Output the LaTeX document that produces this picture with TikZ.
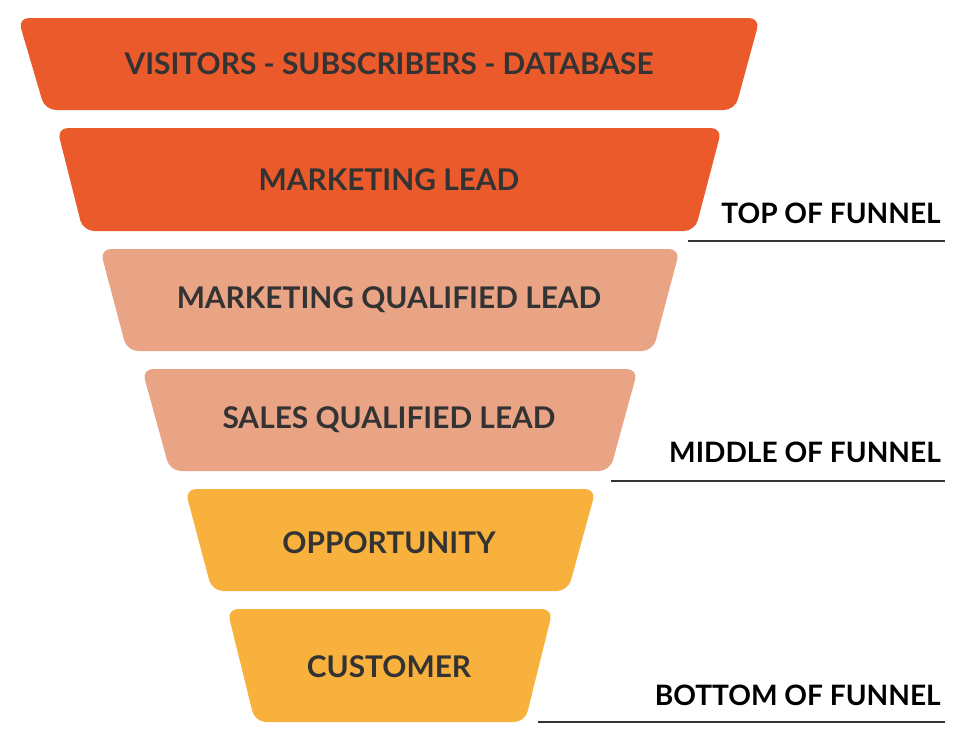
\documentclass[tikz,border=0pt]{standalone}
\usepackage{fontspec}
\setmainfont{Lato}
\definecolor{topclr}{HTML}{EA5A2A}
\definecolor{midclr}{HTML}{E9A385}
\definecolor{botclr}{HTML}{F7B13C}
\definecolor{txtclr}{HTML}{333333}
\tikzset{
  stage/.style={rounded corners=0.22cm},
  stagetext/.style={text=txtclr,font=\fontsize{17}{20}\selectfont\bfseries},
  sidetext/.style={text=black,font=\fontsize{16}{19}\selectfont\bfseries,anchor=east}
}
\begin{document}
\begin{tikzpicture}[x=0.02cm,y=-0.02cm]
        \useasboundingbox (0,0) rectangle (958,737);

        \fill[stage,topclr] (18,18) -- (760,18) -- (735,110) -- (45,110) -- cycle;
        \fill[stage,topclr] (57,128) -- (722,128) -- (695,231) -- (83,231) -- cycle;
        \fill[stage,midclr] (100,249) -- (680,249) -- (653,351) -- (127,351) -- cycle;
        \fill[stage,midclr] (142,369) -- (638,369) -- (610,471) -- (170,471) -- cycle;
        \fill[stage,botclr] (185,489) -- (596,489) -- (568,591) -- (212,591) -- cycle;
        \fill[stage,botclr] (227,609) -- (553,609) -- (525,722) -- (255,722) -- cycle;

        \node[stagetext] (visitors) at (389,64) {VISITORS - SUBSCRIBERS - DATABASE};
        \node[stagetext] (lead) at (389,180) {MARKETING LEAD};
        \node[stagetext] (mql) at (389,300) {MARKETING QUALIFIED LEAD};
        \node[stagetext] (sql) at (389,420) {SALES QUALIFIED LEAD};
        \node[stagetext] (opp) at (389,543) {OPPORTUNITY};
        \node[stagetext] (cust) at (389,667) {CUSTOMER};

        \node[sidetext] (tof) at (947,213) {TOP OF FUNNEL};
        \node[sidetext] (mof) at (947,452) {MIDDLE OF FUNNEL};
        \node[sidetext] (bof) at (947,695) {BOTTOM OF FUNNEL};

        \draw[txtclr,line width=0.6pt] (688,241) -- (945,241);
        \draw[txtclr,line width=0.6pt] (611,481) -- (945,481);
        \draw[txtclr,line width=0.6pt] (538,722) -- (945,722);
\end{tikzpicture}
\end{document}
